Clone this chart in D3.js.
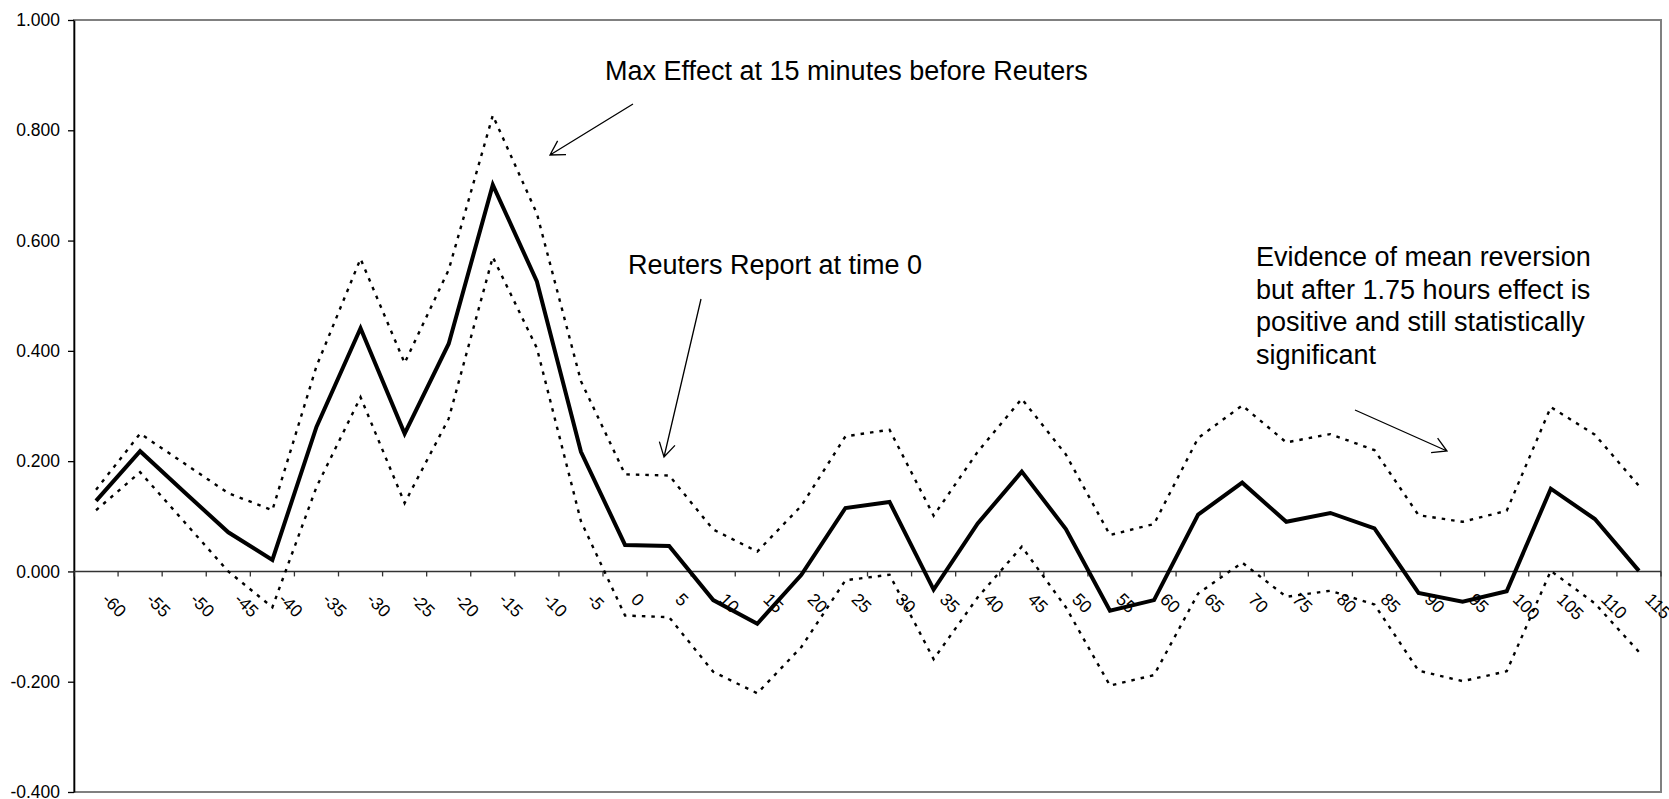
<!DOCTYPE html>
<html>
<head>
<meta charset="utf-8">
<script src="https://cdn.jsdelivr.net/npm/d3@7"></script>
<style>
  body { margin: 0; background: #fff; }
  svg { display: block; font-family: "Liberation Sans", Arial, sans-serif; }
</style>
</head>
<body>
<div class="container"></div>
<script>

// minutes relative to the Reuters report
const offsets = [-60, -55, -50, -45, -40, -35, -30, -25, -20, -15, -10, -5, 0, 5, 10, 15, 20, 25,
                 30, 35, 40, 45, 50, 55, 60, 65, 70, 75, 80, 85, 90, 95, 100, 105, 110, 115];

// estimated effect
const effect = [0.128, 0.218, 0.144, 0.071, 0.021, 0.262, 0.441, 0.250, 0.413, 0.701, 0.526, 0.217,
                0.048, 0.046, -0.052, -0.095, -0.006, 0.115, 0.126, -0.033, 0.087, 0.181, 0.077, -0.071,
                -0.052, 0.103, 0.161, 0.090, 0.106, 0.078, -0.039, -0.055, -0.036, 0.150, 0.095, 0.001];

// confidence band
const upper = [0.148, 0.250, 0.196, 0.142, 0.111, 0.372, 0.567, 0.378, 0.547, 0.827, 0.649, 0.345,
               0.176, 0.174, 0.076, 0.036, 0.119, 0.245, 0.257, 0.101, 0.217, 0.313, 0.212, 0.066,
               0.086, 0.242, 0.301, 0.234, 0.249, 0.220, 0.102, 0.090, 0.110, 0.298, 0.248, 0.155];

const lower = [0.111, 0.180, 0.090, 0.000, -0.065, 0.153, 0.316, 0.124, 0.277, 0.570, 0.405, 0.091,
               -0.080, -0.083, -0.182, -0.221, -0.137, -0.016, -0.006, -0.159, -0.047, 0.045, -0.065, -0.207,
               -0.188, -0.040, 0.016, -0.046, -0.035, -0.060, -0.180, -0.199, -0.181, 0.001, -0.058, -0.146];

const yTicks = [-0.4, -0.2, 0, 0.2, 0.4, 0.6, 0.8, 1.0];

const notes = [
    { lines: ['Max Effect at 15 minutes before Reuters'], x: 605, y: 80 },
    { lines: ['Reuters Report at time 0'], x: 628, y: 274 },
    { lines: ['Evidence of mean reversion', 'but after 1.75 hours effect is',
              'positive and still statistically', 'significant'], x: 1256, y: 266 }
];

const arrows = [
    { from: [633, 104], to: [550, 155] },
    { from: [701, 299], to: [664, 457] },
    { from: [1355, 410], to: [1447, 451] }
];

const width = 1669;
const height = 799;
const plotLeft = 74;
const plotRight = 1661;
const plotTop = 20;
const plotBottom = 792;

const svg = d3.select('.container')
            .append('svg')
            .attr('width', width)
            .attr('height', height)

const x = d3.scaleBand().domain(offsets).range([plotLeft, plotRight]);
const cx = d => x(d) + x.bandwidth() / 2;
const y = d3.scaleLinear().domain([-0.4, 1.0]).range([plotBottom, plotTop]);

// plot frame (grey)
svg.append('rect')
    .attr('x', plotLeft)
    .attr('y', plotTop)
    .attr('width', plotRight - plotLeft)
    .attr('height', plotBottom - plotTop)
    .attr('fill', 'none')
    .attr('stroke', '#808080')
    .attr('stroke-width', 2)

// y axis
const yAxis = svg.append('g')
    .attr('transform', `translate(${plotLeft},0)`)
    .call(d3.axisLeft(y).tickValues(yTicks).tickFormat(d => d.toFixed(3)).tickSize(6).tickSizeOuter(0).tickPadding(8))
yAxis.select('.domain').attr('stroke', '#000').attr('stroke-width', 1.6)
yAxis.selectAll('.tick line').attr('stroke', '#000').attr('stroke-width', 1.3)
yAxis.selectAll('.tick text').attr('font-size', 17.5).attr('fill', '#000').attr('font-family', '"Liberation Sans", Arial, sans-serif')

// zero line with category ticks
const y0 = y(0);
svg.append('line')
    .attr('x1', plotLeft).attr('x2', plotRight)
    .attr('y1', y0).attr('y2', y0)
    .attr('stroke', '#333')
    .attr('stroke-width', 1.4)

svg.append('g').selectAll('line')
    .data(offsets.concat(['end']))
    .enter()
    .append('line')
    .attr('x1', d => d === 'end' ? plotRight : x(d))
    .attr('x2', d => d === 'end' ? plotRight : x(d))
    .attr('y1', y0)
    .attr('y2', y0 + 5)
    .attr('stroke', '#333')
    .attr('stroke-width', 1.3)

svg.append('g').selectAll('text')
    .data(offsets)
    .enter()
    .append('text')
    .attr('transform', d => `translate(${cx(d) + 5},${y0 + 29}) rotate(45)`)
    .attr('font-size', 17.5)
    .text(d => String(d))

// lines
const line = d3.line().x((d, i) => cx(offsets[i])).y(d => y(d));

svg.append('path')
    .datum(upper)
    .attr('d', line)
    .attr('fill', 'none')
    .attr('stroke', '#000')
    .attr('stroke-width', 2.4)
    .attr('stroke-dasharray', '3.5,6')

svg.append('path')
    .datum(lower)
    .attr('d', line)
    .attr('fill', 'none')
    .attr('stroke', '#000')
    .attr('stroke-width', 2.4)
    .attr('stroke-dasharray', '3.5,6')

svg.append('path')
    .datum(effect)
    .attr('d', line)
    .attr('fill', 'none')
    .attr('stroke', '#000')
    .attr('stroke-width', 4)
    .attr('stroke-linejoin', 'miter')

// annotations
notes.forEach(n => {
    const t = svg.append('text')
        .attr('x', n.x)
        .attr('y', n.y)
        .attr('font-size', 27)
    t.selectAll('tspan')
        .data(n.lines)
        .enter()
        .append('tspan')
        .attr('x', n.x)
        .attr('dy', (d, i) => i === 0 ? 0 : 32.7)
        .text(d => d)
})

arrows.forEach(a => {
    const [x1, y1] = a.from;
    const [x2, y2] = a.to;
    const ang = Math.atan2(y2 - y1, x2 - x1);
    const head = 16;
    const spread = Math.PI / 6;
    const p1 = [x2 - head * Math.cos(ang - spread), y2 - head * Math.sin(ang - spread)];
    const p2 = [x2 - head * Math.cos(ang + spread), y2 - head * Math.sin(ang + spread)];
    svg.append('path')
        .attr('d', `M${x1},${y1}L${x2},${y2}M${p1[0]},${p1[1]}L${x2},${y2}L${p2[0]},${p2[1]}`)
        .attr('fill', 'none')
        .attr('stroke', '#000')
        .attr('stroke-width', 1.3)
})

</script>
</body>
</html>
